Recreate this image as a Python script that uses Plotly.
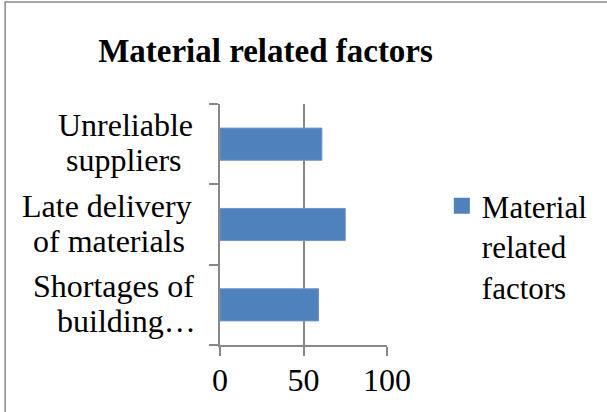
import plotly.graph_objects as go

categories = ["Shortages of building…", "Late delivery of materials", "Unreliable suppliers"]
label_line1 = ["Shortages of", "Late delivery", "Unreliable"]
label_line2 = ["building…", "of materials", "suppliers"]
values = [59, 75, 61]
series_name = "Material<br>related<br>factors"
x_ticks = [0, 50, 100]

# layout: horizontal centre (px) of each label line, as in the reference
line1_centre_px = [112.5, 106.5, 125]
line2_centre_px = [126, 108.5, 123]

W, H = 607, 412
L, R, T, B = 219.5, 220, 104, 67
pw = W - L - R
ph = H - T - B

serif = "Liberation Serif, Times New Roman, serif"
axis_col = "#888888"
bar_col = "#4F81BD"

fig = go.Figure()
fig.add_trace(go.Bar(
    y=categories, x=values, orientation="h",
    marker=dict(color=bar_col, line=dict(color="#6E95C8", width=1)),
    width=0.4, showlegend=False, name="Material related factors",
))
# legend item with a larger square swatch
fig.add_trace(go.Scatter(
    x=[None], y=[None], mode="markers", name=series_name,
    marker=dict(symbol="square", size=17, color=bar_col),
    showlegend=True, hoverinfo="skip",
))

def px_x(p):
    return (p - L) / pw

def px_y(p):
    return (H - B - p) / ph

annotations = []
lab_font = dict(size=32, family=serif, color="black")
for cat, l1, l2, c1, c2 in zip(categories, label_line1, label_line2, line1_centre_px, line2_centre_px):
    annotations.append(dict(text=l1, xref="paper", x=px_x(c1), yref="y", y=cat,
                            xanchor="center", yanchor="middle", yshift=19,
                            showarrow=False, font=lab_font))
    annotations.append(dict(text=l2, xref="paper", x=px_x(c2), yref="y", y=cat,
                            xanchor="center", yanchor="middle", yshift=-16,
                            showarrow=False, font=lab_font))

fig.update_layout(
    width=W, height=H,
    margin=dict(l=L, r=R, t=T, b=B, pad=0, autoexpand=False),
    paper_bgcolor="white", plot_bgcolor="white",
    font=dict(family=serif, size=30, color="black"),
    title=dict(text="<b>Material related factors</b>", x=265.5 / W, xanchor="center",
               y=1 - 50.5 / H, yanchor="middle", font=dict(size=33, family=serif, color="black")),
    xaxis=dict(range=[0, 100], tickvals=x_ticks, showgrid=True, gridcolor=axis_col, gridwidth=1.5,
               zeroline=False, showline=True, linecolor=axis_col, linewidth=1.5,
               ticks="outside", ticklen=9, tickcolor=axis_col, tickwidth=1.5,
               ticklabelstandoff=-3,
               tickfont=dict(size=32, family=serif), fixedrange=True),
    yaxis=dict(type="category", categoryorder="array", categoryarray=categories,
               range=[-0.5, 2.5], showgrid=False, zeroline=False,
               showline=True, linecolor=axis_col, linewidth=1.5,
               ticks="outside", tickson="boundaries", ticklen=9, tickcolor=axis_col, tickwidth=1.5,
               showticklabels=False, fixedrange=True),
    legend=dict(x=px_x(442), xanchor="left", y=0.41, yanchor="middle",
                valign="top", font=dict(size=31, family=serif), bgcolor="rgba(0,0,0,0)"),
    annotations=annotations,
    shapes=[dict(type="rect", xref="paper", yref="paper",
                 x0=px_x(4), x1=px_x(612), y0=px_y(418), y1=px_y(2),
                 line=dict(color=axis_col, width=1.5), fillcolor="rgba(0,0,0,0)", layer="below")],
    showlegend=True,
)

fig.write_html("out.html", config={"displayModeBar": False},
               post_script="document.body.style.margin='0';document.body.style.overflow='hidden';")
